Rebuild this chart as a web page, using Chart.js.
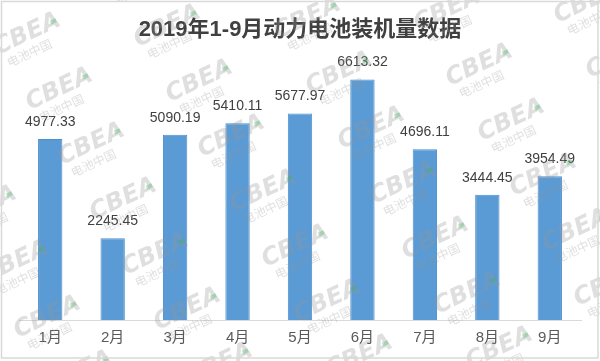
<!DOCTYPE html>
<html>
<head>
<meta charset="utf-8">
<script src="https://cdn.jsdelivr.net/npm/chart.js@4.4.1/dist/chart.umd.min.js"></script>
<style>
  html, body { margin: 0; padding: 0; background: #fff; }
  #wrap { position: relative; width: 600px; height: 361px; }
</style>
</head>
<body>
<div id="wrap"><canvas id="chart"></canvas></div>
<script>
// data
const months = ['1月', '2月', '3月', '4月', '5月', '6月', '7月', '8月', '9月'];
const capacity = [4977.33, 2245.45, 5090.19, 5410.11, 5677.97, 6613.32, 4696.11, 3444.45, 3954.49];
const yMax = 7000;
const chartTitle = '2019年1-9月动力电池装机量数据';

// value labels above each bar
const barLabels = {
    id: 'barLabels',
    afterDatasetsDraw(chart) {
        const ctx = chart.ctx;
        const meta = chart.getDatasetMeta(0);
        ctx.save();
        ctx.font = '14px "Liberation Sans", Arial, sans-serif';
        ctx.fillStyle = '#404040';
        ctx.textAlign = 'center';
        ctx.textBaseline = 'alphabetic';
        meta.data.forEach(function(bar, i) {
            ctx.fillText(capacity[i].toFixed(2), bar.x, bar.y - 13);
        });
        ctx.restore();
    }
};

// CBEA watermarks and the thin frame
const decor = {
    id: 'decor',
    afterDraw(chart) {
        const ctx = chart.ctx;
        ctx.save();
        for (let j = -2; j < 8; j++) {
            for (let i = -2; i < 7; i++) {
                const x = 30 + i * 140 + j * 32;
                const y = 40 - i * 8 + j * 55;
                if (x < -60 || x > 660 || y < -40 || y > 400) continue;
                ctx.save();
                ctx.translate(x, y);
                ctx.rotate(-25 * Math.PI / 180);
                ctx.fillStyle = 'rgba(150,150,150,0.3)';
                ctx.textAlign = 'center';
                ctx.font = 'italic bold 24px "DejaVu Sans", sans-serif';
                ctx.fillText('CBEA', 0, 0);
                ctx.font = '12px "Noto Sans CJK SC", sans-serif';
                ctx.fillText('电池中国', -6, 16);
                ctx.fillStyle = 'rgba(60,180,90,0.35)';
                ctx.fillRect(26, -9, 6, 4);
                ctx.restore();
            }
        }
        ctx.strokeStyle = '#d9d9d9';
        ctx.lineWidth = 1.5;
        ctx.strokeRect(1.5, 1.5, 596.5, 356.5);
        ctx.restore();
    }
};

new Chart(document.getElementById('chart'), {
    type: 'bar',
    data: {
        labels: months,
        datasets: [{
            data: capacity,
            backgroundColor: '#5b9bd5',
            borderColor: '#4d8fcf',
            borderWidth: 1,
            barPercentage: 0.39,
            categoryPercentage: 1
        }]
    },
    options: {
        responsive: true,
        maintainAspectRatio: false,
        devicePixelRatio: 1,
        animation: false,
        layout: { padding: { left: 19, right: 19, top: 0, bottom: 5 } },
        plugins: {
            legend: { display: false },
            tooltip: { enabled: false },
            title: {
                display: true,
                text: chartTitle,
                color: '#404040',
                font: { family: '"Liberation Sans", "Noto Sans CJK SC", sans-serif', size: 22, weight: 'bold' },
                padding: { top: 17, bottom: 22 }
            }
        },
        scales: {
            x: {
                grid: { display: false, drawTicks: false },
                border: { display: true, color: '#d9d9d9', width: 1 },
                ticks: {
                    color: '#595959',
                    padding: 9,
                    font: { family: '"Liberation Sans", "Noto Sans CJK SC", sans-serif', size: 15 }
                }
            },
            y: {
                display: false,
                min: 0,
                max: yMax
            }
        }
    },
    plugins: [barLabels, decor]
});
</script>
</body>
</html>
